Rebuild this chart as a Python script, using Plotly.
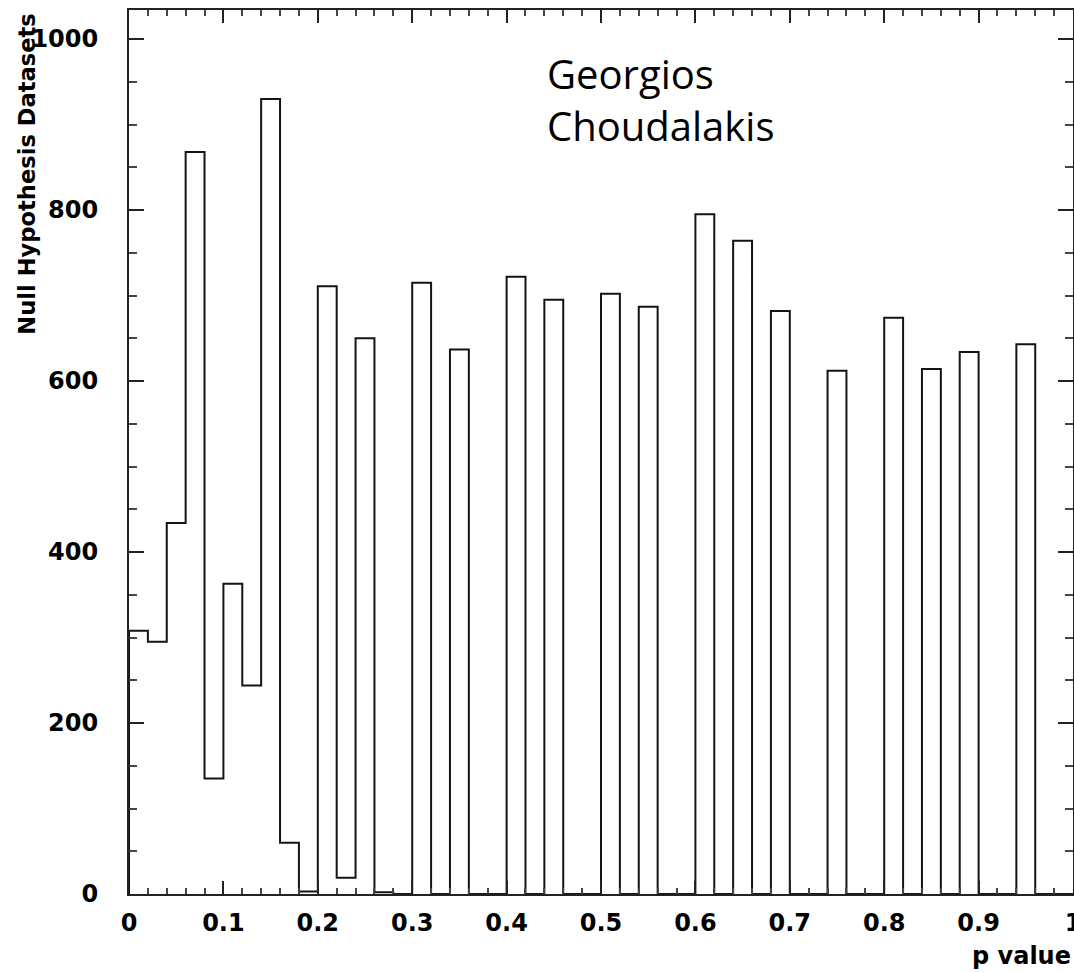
import numpy as np
import plotly.graph_objects as go

# p-value histogram: 50 bins of width 0.02 on [0, 1]
bin_width = 0.02
counts = [308, 295, 434, 868, 135, 363, 244, 930, 60, 3,
          711, 19, 650, 2, 0, 715, 0, 637, 0, 0,
          722, 0, 695, 0, 0, 702, 0, 687, 0, 0,
          795, 0, 764, 0, 682, 0, 0, 612, 0, 0,
          674, 0, 614, 0, 634, 0, 0, 643, 0, 0]

x_ticks = [0, 0.1, 0.2, 0.3, 0.4, 0.5, 0.6, 0.7, 0.8, 0.9, 1.0]
x_tick_labels = ["0", "0.1", "0.2", "0.3", "0.4", "0.5", "0.6", "0.7", "0.8", "0.9", "1"]
y_ticks = [0, 200, 400, 600, 800, 1000]
y_tick_labels = ["0", "200", "400", "600", "800", "1000"]

x_title = "p value"
y_title = "Null Hypothesis Datasets"
author_text = "Georgios<br>Choudalakis"

# Step outline of the histogram (ROOT-style, no fill)
edges = np.arange(len(counts) + 1) * bin_width
xs = [0.0] + list(edges[:-1]) + [edges[-1], edges[-1]]
ys = [0] + counts + [counts[-1], 0]

fig = go.Figure()
fig.add_trace(go.Scatter(
    x=xs, y=ys, mode="lines",
    line=dict(shape="hv", color="#141414", width=2),
    hoverinfo="skip",
))

root_font = dict(family="DejaVu Sans", size=24, color="black", weight="bold")
axis_col = "#222222"

common_axis = dict(
    showgrid=False, zeroline=False, automargin=False,
    showline=True, linewidth=2, linecolor=axis_col, mirror="ticks",
    ticks="inside", tickwidth=2, tickcolor=axis_col,
    tickfont=root_font, ticklabeloverflow="allow",
)

fig.update_layout(
    width=1074, height=972,
    margin=dict(l=129, r=1, t=10, b=78, autoexpand=False),
    paper_bgcolor="white", plot_bgcolor="white",
    showlegend=False,
    xaxis=dict(
        range=[0, 1.0], tickmode="array", tickvals=x_ticks, ticktext=x_tick_labels,
        ticklen=13, ticklabelstandoff=6,
        minor=dict(dtick=0.02, ticks="inside", ticklen=6, tickwidth=2,
                   tickcolor="#444444", showgrid=False),
        **common_axis,
    ),
    yaxis=dict(
        range=[0, 1034], tickmode="array", tickvals=y_ticks, ticktext=y_tick_labels,
        ticklen=15, ticklabelstandoff=24,
        minor=dict(dtick=50, ticks="inside", ticklen=8, tickwidth=2,
                   tickcolor="#444444", showgrid=False),
        **common_axis,
    ),
)

annotations = [
    dict(text=y_title, textangle=-90, xref="paper", yref="paper",
         x=-0.109, y=0.630, xanchor="center", yanchor="bottom",
         showarrow=False, font=dict(family="DejaVu Sans", size=22.6, color="black", weight="bold")),
    dict(text=x_title, xref="paper", yref="paper",
         x=1.0, y=-0.070, xanchor="right", yanchor="middle",
         showarrow=False, font=root_font),
    dict(text=author_text, xref="paper", yref="paper", align="left",
         x=0.4407, y=0.899, xanchor="left", yanchor="middle",
         showarrow=False, font=dict(family="Open Sans", size=40, color="black")),
]
fig.update_layout(annotations=annotations)

fig.write_html("out.html")
